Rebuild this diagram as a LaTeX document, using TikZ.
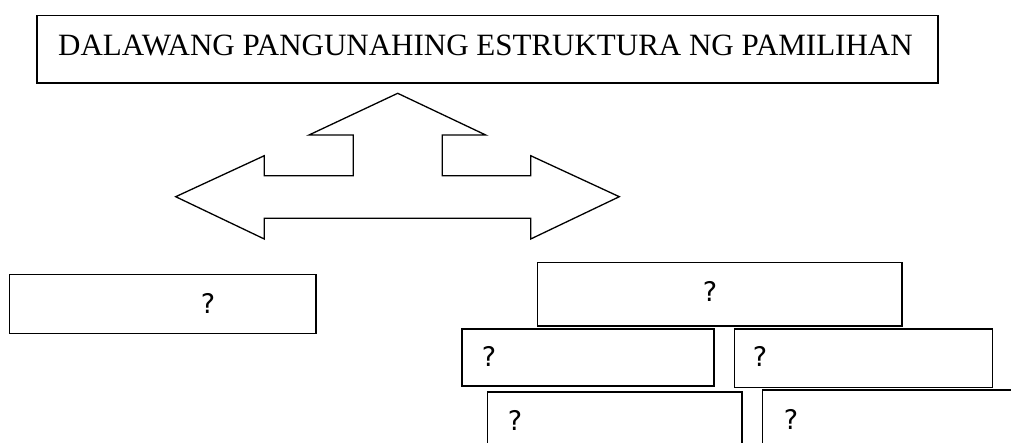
\documentclass[tikz,border=0pt]{standalone}
\usepackage{fontspec}
\setmainfont{Liberation Serif}
\newfontfamily\qfont{DejaVu Sans}
\begin{document}
\begin{tikzpicture}[x=1pt,y=-1pt,
  box/.style={draw=black,line width=1.6pt,rectangle,anchor=north west,inner sep=0pt,outer sep=0pt},
  qmark/.style={font=\qfont\fontsize{27}{30}\selectfont,inner sep=0pt,anchor=center},
  titletext/.style={font=\fontsize{31}{36}\selectfont,inner sep=0pt,anchor=base},
  arrowshape/.style={draw=black,line width=1.3pt,line join=miter}]
\useasboundingbox (0,0) rectangle (1011,442);
\clip (0,0) rectangle (1011,442);
% title
\node[box,minimum width=901pt,minimum height=67.4pt] (title) at (37,15.3) {};
\node[titletext] (titlelabel) at (485.5,55) {DALAWANG PANGUNAHING ESTRUKTURA NG PAMILIHAN};
% three-way arrow
\draw[arrowshape] (397.7,93.3) -- (485.7,135) -- (442.3,135) -- (442.3,175.7) -- (530.7,175.7)
  -- (530.7,155.7) -- (619.3,196.7) -- (530.7,239) -- (530.7,218.3) -- (264.3,218.3)
  -- (264.3,239) -- (175.7,196.7) -- (264.3,155.7) -- (264.3,175.7) -- (353.3,175.7)
  -- (353.3,135) -- (309,135) -- cycle;
% left box
\node[box,minimum width=306.7pt,minimum height=59pt] (leftbox) at (9.3,274.3) {};
\node[qmark] (leftq) at (208,303) {?};
% right group
\node[box,minimum width=364.4pt,minimum height=63.7pt] (topbox) at (537.3,262.3) {};
\node[qmark] (topq) at (710,291.7) {?};
\node[box,minimum width=252.3pt,minimum height=57pt] (midl) at (461.7,329) {};
\node[qmark] (midlq) at (489,356.7) {?};
\node[box,minimum width=258pt,minimum height=58.3pt] (midr) at (734.3,329) {};
\node[qmark] (midrq) at (760,356.7) {?};
\node[box,minimum width=254.4pt,minimum height=80pt] (botl) at (487.3,391.7) {};
\node[qmark] (botlq) at (515,420) {?};
\node[box,minimum width=280pt,minimum height=80pt] (botr) at (762.3,390) {};
\node[qmark] (botrq) at (791,419) {?};
\end{tikzpicture}
\end{document}
